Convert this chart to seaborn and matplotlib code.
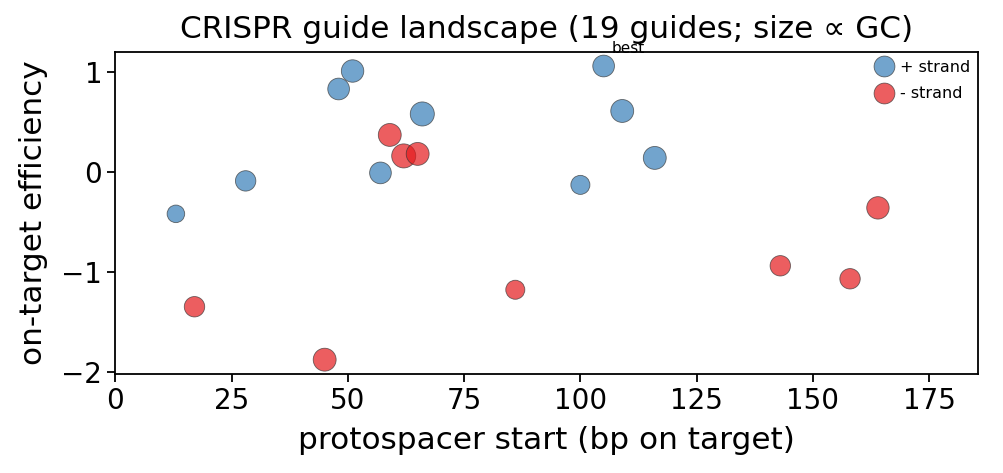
import pandas as pd
import matplotlib
matplotlib.use("Agg")
import matplotlib.pyplot as plt
import seaborn as sns
from matplotlib.lines import Line2D

# guide data
start = [13, 28, 48, 51, 57, 66, 100, 105, 109, 116,
         17, 45, 59, 62, 65, 86, 143, 158, 164]
efficiency = [-0.42, -0.09, 0.83, 1.01, -0.01, 0.58, -0.13, 1.06, 0.61, 0.14,
              -1.35, -1.88, 0.37, 0.16, 0.18, -1.18, -0.94, -1.07, -0.36]
gc = [40, 50, 55, 58, 55, 65, 45, 55, 60, 60,
      50, 60, 60, 65, 60, 45, 50, 50, 58]
strand = ['+'] * 10 + ['-'] * 9

data = pd.DataFrame({'start': start, 'eff': efficiency, 'gc': gc, 'strand': strand})
colors = {'+': '#377eb8', '-': '#e41a1c'}

sns.set_theme(style='ticks')
plt.rcParams['font.family'] = ['DejaVu Sans']
for key in ['text.color', 'axes.labelcolor', 'xtick.color', 'ytick.color', 'axes.edgecolor']:
    plt.rcParams[key] = 'black'

fig, ax = plt.subplots(figsize=(10.04, 4.73), dpi=100)
sns.scatterplot(data=data, x='start', y='eff', hue='strand', size='gc',
                sizes=(160, 300), palette=colors, alpha=0.7,
                edgecolor='#333333', linewidth=0.6, legend=False, ax=ax)

best = data['eff'].idxmax()
ax.annotate('best', (data.loc[best, 'start'], data.loc[best, 'eff']),
            xytext=(6, 7), textcoords='offset points', fontsize=11,
            ha='left', va='bottom')

handles = [Line2D([], [], marker='o', linestyle='', markersize=15,
                  markerfacecolor=colors[s], markeredgecolor='#333333',
                  markeredgewidth=0.6, alpha=0.7, label=f'{s} strand')
           for s in ['+', '-']]
ax.legend(handles=handles, loc='upper right', frameon=False, fontsize=11.5,
          handletextpad=0.0, borderaxespad=0.1, labelspacing=0.7)

ax.set_xlim(0, 185.5)
ax.set_ylim(-2.02, 1.2)
ax.set_yticks([-2, -1, 0, 1])
ax.set_title('CRISPR guide landscape (19 guides; size ∝ GC)', fontsize=22.4, pad=10)
ax.set_xlabel('protospacer start (bp on target)', fontsize=22.4, labelpad=8)
ax.set_ylabel('on-target efficiency', fontsize=22.4, labelpad=10)
ax.tick_params(labelsize=20, width=1.3, length=6)
for sp in ax.spines.values():
    sp.set_visible(True)
    sp.set_linewidth(1.3)

plt.subplots_adjust(left=0.115, right=0.974, top=0.89, bottom=0.21)
plt.savefig('out.png', dpi=100)
